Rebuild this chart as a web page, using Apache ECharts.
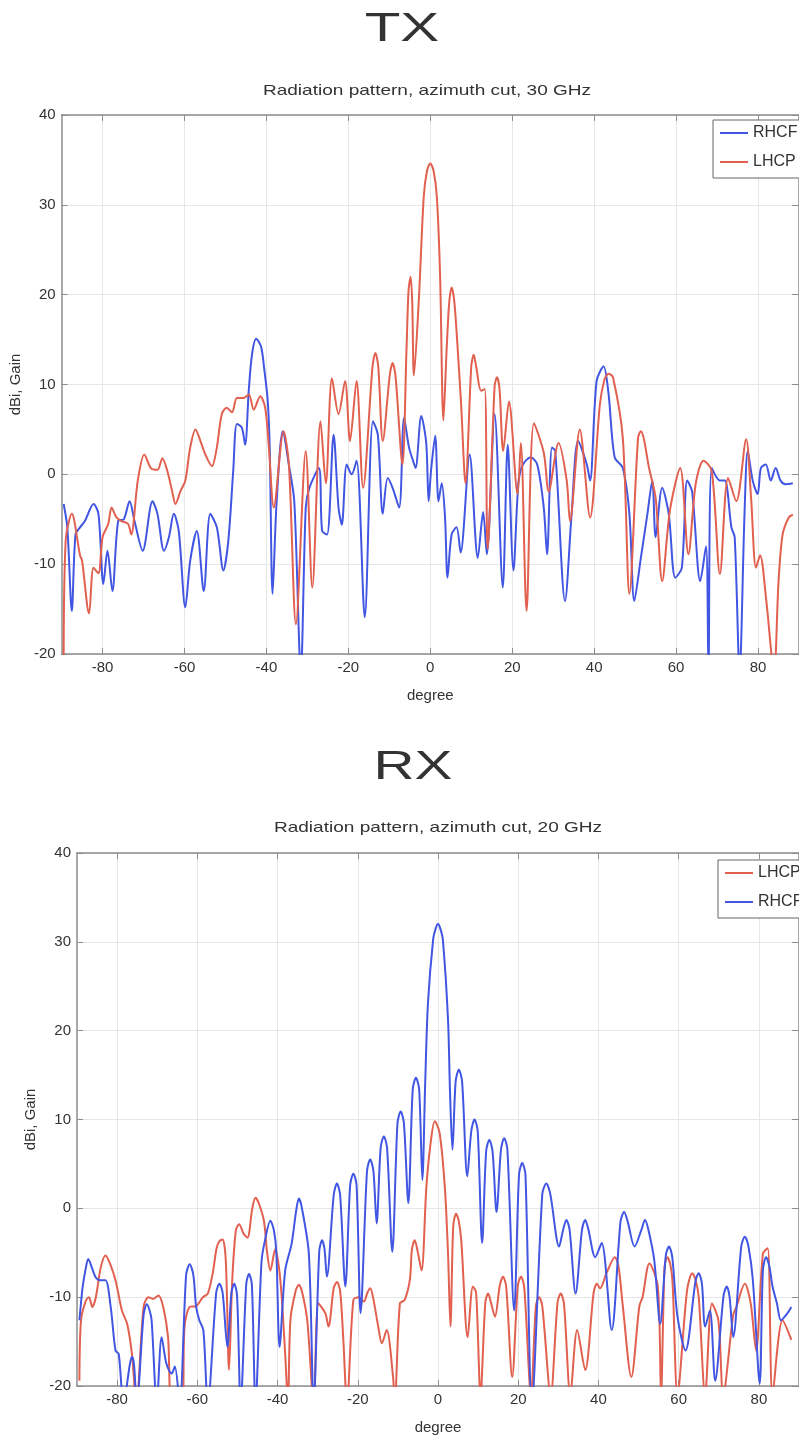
<!DOCTYPE html>
<html>
<head>
<meta charset="utf-8">
<title>Radiation pattern TX / RX</title>
<script src="https://cdn.jsdelivr.net/npm/echarts@6/dist/echarts.min.js"></script>
<style>
  html, body { margin: 0; padding: 0; background: #fff; }
  #chart { width: 799px; height: 1443px; }
</style>
</head>
<body>
<div id="chart"></div>
<script>
// tick positions on the degree axis
const degreeTicks = [-80, -60, -40, -20, 0, 20, 40, 60, 80]

// TX, 30 GHz
const txRhcfDeg = [-89.5, -88.6, -87.5, -86.6, -85.5, -84.3, -82.2, -81, -79.8, -78.8, -77.6, -76.2, -74.8, -73.4, -72.2, -70.2, -67.8, -66.6, -65, -63.8, -62.6, -61.4, -59.8, -58.6, -57, -55.3, -53.7, -52.1, -50.5, -49.3, -48.1, -47.2, -46, -45.2, -44.3, -43.5, -42.5, -41.3, -40.5, -39.7, -39.2, -38.5, -37.5, -36, -34.5, -33.2, -31.6, -30.4, -29.5, -27.2, -26.4, -25.2, -23.6, -22.4, -21.6, -20.4, -19.2, -18, -16, -14, -12.8, -11.6, -10.4, -9.2, -7.6, -6.4, -5.2, -4.2, -3.6, -2.2, -1, -0.4, 0.2, 1.2, 2, 2.8, 3.6, 4.2, 5.2, 6.4, 7.4, 9.6, 11.6, 12.9, 13.8, 15.7, 17.7, 18.9, 20.3, 21.5, 22.5, 24.5, 26.1, 27.7, 28.5, 29.7, 30.5, 32.9, 34.5, 36.1, 38.2, 39, 40.6, 42.3, 43.5, 45, 47, 48.6, 49.8, 51.4, 53, 54.2, 55, 56.6, 58.2, 59.8, 61.4, 62.7, 63.9, 65.9, 67.3, 67.9, 68.7, 70.7, 71.9, 73.5, 74.3, 75.5, 76.7, 77.5, 78.7, 79.9, 80.7, 81.9, 83.1, 84.3, 85.5, 86.7, 88.5]
const txRhcfGain = [-3.3, -5.9, -15.2, -6.7, -5.9, -5.2, -3.3, -4.4, -12.2, -8.5, -13, -5.2, -5, -3, -5.2, -8.5, -3, -4.4, -8.5, -7, -4.4, -6.3, -14.8, -9.6, -6.3, -13, -4.4, -5.9, -10.7, -7.4, 0.4, 5.6, 5.2, 3.3, 9.4, 13.4, 15.1, 14.2, 11.6, 8.3, 3, -13.3, -3, 4.8, 1, -3, -22, -3.7, -1.5, 0.7, -6.3, -6.7, 4.4, -3.7, -5.6, 1.1, 0, 1.5, -15.9, 5.9, 4.4, -4.4, -0.4, -1.5, -3.7, 6.3, 3, 1.5, 0.7, 6.5, 3.5, -3, 0.5, 4.3, -3, -1, -4.8, -11.5, -6.7, -5.9, -8.7, 2.2, -9.3, -4.2, -8.9, 6.7, -12.6, 3.3, -10.7, -1, 1, 1.9, 1.1, -3.7, -8.9, 3, 2.6, -14.1, -4.4, 3.7, 1.1, -0.7, 10.4, 12, 9, 1.9, 0.7, -4.4, -14.1, -9.3, -4.4, -0.7, -7, -1.5, -4.4, -11.5, -10.4, -0.7, -1.9, -11.9, -8, -22, 0.7, -0.7, -0.7, -5.9, -7, -22, -4.4, 2.6, -0.7, -2.2, 0.7, 1.1, -0.7, 0.7, -0.7, -1.1, -1]

const txLhcpDeg = [-89.5, -89, -87.5, -85.5, -85, -83.3, -82.2, -81, -80, -78.6, -77.8, -76.6, -75.4, -73.8, -73, -71.4, -69.8, -68.2, -66.6, -65.4, -64.2, -63, -62.2, -61, -59.8, -58.6, -57.3, -56.1, -54.9, -53.3, -52.1, -50.9, -49.7, -48.4, -47.2, -45.6, -44.3, -43.1, -41.5, -40.3, -39.4, -38.2, -35.8, -34.5, -32.8, -30.4, -28.8, -26.8, -25.5, -24, -22.4, -20.8, -19.6, -18, -16.4, -14.1, -13.4, -12.7, -11.6, -9.9, -9.2, -8.5, -6.8, -5.8, -5.3, -4.8, -4.4, -4, -2.8, -1.6, -0.8, 0, 0.8, 1.6, 2.4, 3.2, 4, 4.6, 5.2, 5.8, 6.4, 7.5, 8.6, 10, 10.6, 11.2, 12.4, 13.3, 14, 15.7, 16.3, 16.9, 17.8, 19.2, 21.3, 22.1, 23.5, 25.3, 27.7, 28.9, 31.3, 33.3, 34.1, 36.5, 39, 41.4, 42.5, 43.5, 44.6, 47, 48.6, 50.7, 51.4, 52.1, 53.4, 55, 56.6, 58.5, 61, 63, 64.8, 66.7, 68.7, 70.7, 72.7, 74.7, 77.1, 78.3, 79.5, 80.5, 82, 83.9, 85, 86, 87.5, 88.5]
const txLhcpGain = [-22, -7.4, -4.4, -9, -9.6, -15.5, -10.4, -11, -7, -5.5, -3.7, -4.8, -5.2, -5.5, -6.7, -0.7, 2.2, 0.7, 0.5, 1.8, 0.4, -1.9, -3.3, -1.9, -0.7, 3, 5, 3.7, 2.2, 0.9, 3, 6.7, 7.4, 6.9, 8.5, 8.5, 8.9, 7.2, 8.7, 7.4, 3, -3.7, 4.8, 1, -16.7, 2.6, -12.6, 5.9, -1, 10.7, 6.7, 10.4, 3.7, 10.4, -1.5, 12, 13.5, 12, 3.7, 11, 12.4, 11, 1.1, 14, 20.5, 22, 19, 11, 19.4, 30.9, 33.8, 34.6, 33.8, 30.9, 22, 6, 14, 19, 20.8, 19.5, 16, 8, -1, 12, 13.3, 12, 9.3, 9.5, -8.3, 9.8, 10.8, 9.5, 2.6, 8.1, -2.2, 3.5, -15.2, 5.7, 2.4, -1.9, 3.5, -0.7, -5.2, 5, -4.8, 7.8, 10.5, 11.2, 10.8, 4, -13.3, 4, 4.8, 4, 0.7, -2.6, -11.9, -4, 0.7, -8.9, -1, 1.5, 0.4, -11.1, -0.4, -3, 3.9, -2.6, -10.4, -9, -14, -22, -12, -6.7, -4.8, -4.5]

// RX, 20 GHz
const rxLhcpDeg = [-89.4, -89, -87.8, -87, -86.2, -85.3, -84.1, -82.9, -81.7, -80.4, -78.8, -77.5, -76.3, -75.2, -73.4, -72.2, -71, -69.7, -68.5, -67.3, -66.3, -63.8, -63.2, -61.9, -60.3, -58.6, -57.4, -56.2, -55.2, -54.5, -53.7, -52.9, -52.1, -51.3, -50.4, -49.6, -48.4, -47.5, -46.3, -45.5, -44.7, -43.4, -42.6, -41.8, -40.6, -39.3, -38.1, -37.4, -36.8, -35.5, -34.7, -33.9, -32.6, -31, -29.8, -28.1, -27.3, -26, -25.2, -24.4, -23.6, -22.7, -21.1, -19.8, -18.5, -17.6, -16.9, -16.2, -14.9, -14, -12.8, -11.2, -10.8, -9.5, -8.3, -7, -6.5, -5.8, -5.1, -4.1, -2.9, -1.8, -0.8, 0.4, 1.7, 2.5, 3.1, 3.8, 4.5, 5.2, 5.8, 7.4, 8.7, 9.5, 10.6, 11.8, 12.5, 13.2, 14.2, 15.4, 16.2, 17, 18.5, 19.9, 20.7, 21.5, 23.2, 24.4, 25.2, 26, 28.1, 29.8, 30.6, 31.4, 33, 34.7, 36.7, 38.8, 39.6, 40.4, 42, 44.1, 45, 46.1, 48.2, 50.2, 51, 52.7, 54.8, 55.6, 56.5, 57.2, 58, 58.5, 59.7, 62.1, 63.4, 64.2, 65, 66.6, 68.3, 69.9, 71.1, 73.6, 74.4, 76.5, 77.3, 78.1, 79.3, 81, 82.2, 83.4, 85.9, 88.1]
const rxLhcpGain = [-19.4, -12.6, -10.4, -10, -11.1, -10, -6.7, -5.3, -6.3, -8.1, -11.5, -13, -16.4, -22, -11.1, -10, -10.2, -9.8, -11.1, -14.5, -22, -22, -13.4, -11.1, -11, -10, -9.6, -7.4, -4.5, -3.7, -3.5, -5.9, -18.2, -8.1, -2.5, -1.8, -2.9, -3.3, 0, 1.2, 0.6, -1.4, -5, -7, -4.6, -8.1, -16.4, -22, -12.6, -9.3, -8.6, -9.4, -12.6, -22, -10.7, -11.8, -13.3, -9, -8.3, -9.3, -14.8, -22, -10.3, -10, -10.5, -9.5, -9, -10, -13.3, -15.2, -13.7, -19, -22, -10.7, -10.3, -8, -4.6, -3.6, -4.8, -7, 2.4, 7.5, 9.8, 8.5, 2.4, -5.1, -13.3, -2, -0.6, -1.5, -3.6, -14.5, -8.8, -9.5, -21, -10.6, -9.6, -10.6, -12.2, -8.7, -7.7, -8.8, -19, -8.7, -7.7, -8.9, -21, -11, -10, -11, -21, -10.6, -9.6, -10.7, -21, -13.7, -18.2, -9.5, -8.5, -9, -7.3, -5.5, -6.5, -11.1, -19, -11, -10, -6.2, -8.8, -21, -6.5, -5.5, -6.5, -8.5, -21, -9.2, -7.3, -8, -10, -21, -10.7, -12.6, -21, -12, -11.1, -8.5, -9.3, -11.1, -16, -5.1, -4.5, -21, -12.6, -14.8]

const rxRhcfDeg = [-89.4, -88.6, -87.8, -87.2, -86.2, -85.3, -84.1, -82.9, -81.6, -80.4, -79.6, -78.4, -76.8, -76.3, -75.8, -75.1, -73.4, -72.6, -71.9, -71.4, -70.1, -68.9, -67.7, -66.4, -65.6, -64.4, -62.8, -61.9, -61, -60.3, -59.5, -58.5, -57.4, -55.3, -54.5, -53.7, -52.5, -51.5, -50.8, -50.1, -49.2, -47.8, -47.1, -46.4, -45.5, -44, -43, -41.8, -40.9, -40.3, -39.5, -38.1, -36.5, -35.4, -34.7, -34, -32.2, -31, -29.6, -28.9, -28.3, -27.7, -26, -25.2, -24.4, -23.1, -21.9, -21.1, -20.3, -19.3, -17.7, -16.9, -16.1, -15.3, -14.3, -13.5, -12.7, -11.4, -10.1, -9.3, -8.5, -7.4, -6.3, -5.5, -4.7, -3.9, -3.2, -2.5, -1.2, -0.5, 0, 0.5, 1.2, 2.5, 3, 3.6, 4.4, 5.2, 6, 7.3, 8.3, 9.1, 9.9, 11, 12, 12.8, 13.6, 14.6, 15.7, 16.5, 17.3, 19, 20.2, 21, 21.8, 23.4, 26, 27, 28, 30.2, 31.2, 32, 32.8, 34.3, 35.9, 36.7, 37.5, 39.2, 40.8, 43.3, 45.5, 46.4, 47.3, 49, 50.8, 51.6, 52.4, 53.9, 55.4, 56.8, 57.6, 58.4, 59.7, 61.7, 64.2, 65, 65.8, 66.6, 67.8, 69.1, 71.2, 72, 72.7, 73.6, 75.6, 76.5, 77.4, 78.5, 80.2, 81, 81.8, 82.6, 83.4, 84.5, 85.5, 86.8, 88.1]
const rxRhcfGain = [-12.6, -8.9, -6.7, -5.7, -6.8, -7.8, -8.1, -8.1, -11.1, -16, -16.4, -22, -17.5, -16.7, -17.5, -22, -12, -10.8, -11.5, -12.6, -22, -14.5, -17.5, -18.6, -17.8, -22, -7.5, -6.3, -7.5, -11.1, -12.6, -13.7, -22, -9.5, -8.5, -9.5, -15.6, -9.5, -8.5, -9.8, -22, -8.5, -7.4, -8.6, -22, -6, -3.3, -1.4, -2.5, -5, -15.6, -7, -4, -0.4, 1.1, 0.2, -5.1, -22, -4.8, -3.6, -4.6, -7.7, 1.5, 2.8, 1.5, -8.8, 2.6, 3.9, 2.6, -11.8, 4.2, 5.5, 4.2, -1.7, 6.8, 8.1, 6.8, -4.9, 9.6, 10.9, 9.6, 0.6, 13.4, 14.7, 13.4, 3.2, 14, 23.1, 30.3, 31.6, 32, 31.6, 30.3, 21.2, 13, 6.6, 14.3, 15.6, 14.3, 3.6, 8.7, 10, 8.7, -3.9, 6.4, 7.7, 6.4, -0.4, 6.6, 7.9, 6.6, -11.5, 3.8, 5.1, 3.8, -22, 1.6, 2.8, 1.6, -4.3, -2.4, -1.3, -2.4, -9.6, -2.4, -1.3, -2.4, -5.5, -3.9, -13.7, -1.5, -0.4, -1.5, -4.3, -2.3, -1.3, -2.3, -5.8, -13, -5.3, -4.3, -5.5, -12.2, -16, -8.2, -7.3, -8.5, -13.3, -11.5, -19.4, -9.8, -8.8, -10, -14.5, -4.3, -3.2, -4.3, -8.1, -19.7, -7, -5.5, -6.5, -8.8, -10.7, -12.6, -12, -11.1]

const BLUE = '#4156e2'
const RED = '#e2604f'
const FONT = '"Liberation Sans", Arial, sans-serif'

const chartInstance = echarts.init(document.getElementById('chart'))

function pairs(xs, ys) {
  return xs.map((x, i) => [x, ys[i]])
}

function bottomAxis(gridIndex) {
  return {
    type: 'value',
    gridIndex: gridIndex,
    position: 'bottom',
    min: -90,
    max: 90,
    name: 'degree',
    nameLocation: 'middle',
    nameGap: 34,
    nameTextStyle: { fontFamily: FONT, fontSize: 15, color: '#333' },
    axisLine: { show: true, onZero: false, lineStyle: { color: '#8c8c8c', width: 1.5 } },
    axisTick: { show: true, inside: true, length: 6, customValues: degreeTicks, lineStyle: { color: '#8c8c8c' } },
    axisLabel: { customValues: degreeTicks, margin: 6, fontFamily: FONT, fontSize: 15, color: '#333' },
    splitLine: { show: true, lineStyle: { color: '#e6e6e6', width: 1 } },
  }
}

function topAxis(gridIndex) {
  return {
    type: 'value',
    gridIndex: gridIndex,
    position: 'top',
    min: -90,
    max: 90,
    axisLine: { show: true, onZero: false, lineStyle: { color: '#8c8c8c', width: 1.5 } },
    axisTick: { show: true, inside: true, length: 6, customValues: degreeTicks, lineStyle: { color: '#8c8c8c' } },
    axisLabel: { show: false },
    splitLine: { show: false },
  }
}

function leftAxis(gridIndex, gap) {
  return {
    type: 'value',
    gridIndex: gridIndex,
    position: 'left',
    min: -20,
    max: 40,
    interval: 10,
    name: 'dBi, Gain',
    nameLocation: 'middle',
    nameRotate: 90,
    nameGap: gap,
    nameTextStyle: { fontFamily: FONT, fontSize: 15, color: '#333' },
    axisLine: { show: true, onZero: false, lineStyle: { color: '#8c8c8c', width: 1.5 } },
    axisTick: { show: true, inside: true, length: 6, lineStyle: { color: '#8c8c8c' } },
    axisLabel: { margin: 6, fontFamily: FONT, fontSize: 15, color: '#333' },
    splitLine: { show: true, lineStyle: { color: '#e6e6e6', width: 1 } },
  }
}

function rightAxis(gridIndex) {
  return {
    type: 'value',
    gridIndex: gridIndex,
    position: 'right',
    min: -20,
    max: 40,
    interval: 10,
    axisLine: { show: true, onZero: false, lineStyle: { color: '#8c8c8c', width: 1.5 } },
    axisTick: { show: true, inside: true, length: 7, lineStyle: { color: '#8c8c8c' } },
    axisLabel: { show: false },
    splitLine: { show: false },
  }
}

function lineSeries(name, color, axisIndex, data) {
  return {
    name: name,
    type: 'line',
    xAxisIndex: axisIndex,
    yAxisIndex: axisIndex,
    data: data,
    showSymbol: false,
    smooth: 0.3,
    clip: true,
    lineStyle: { color: color, width: 2 },
    itemStyle: { color: color },
  }
}

function legendBox(left, top, names) {
  return {
    left: left,
    top: top,
    orient: 'vertical',
    data: names,
    icon: 'path://M0,0H28V2H0Z',
    itemWidth: 28,
    itemHeight: 2,
    itemGap: 13,
    padding: [5, 8, 8, 7],
    borderColor: '#666',
    borderWidth: 1,
    borderRadius: 0,
    backgroundColor: '#fff',
    selectedMode: false,
    textStyle: { fontFamily: FONT, fontSize: 16, lineHeight: 16, color: '#333' },
  }
}

function titleText(text, x, y, size, scaleX) {
  return {
    type: 'text',
    x: x,
    y: y,
    scaleX: scaleX,
    style: {
      text: text,
      fontFamily: FONT,
      fontSize: size,
      fill: '#333',
      align: 'center',
      verticalAlign: 'middle',
    },
  }
}

const option = {
  animation: false,
  backgroundColor: '#fff',
  graphic: [
    titleText('TX', 402, 30, 40, 1.46),
    titleText('Radiation pattern, azimuth cut, 30 GHz', 427, 91, 15, 1.27),
    titleText('RX', 413, 768, 40, 1.42),
    titleText('Radiation pattern, azimuth cut, 20 GHz', 438, 828, 15, 1.27),
  ],
  grid: [
    { left: 60, top: 115, width: 744, height: 539, containLabel: false },
    { left: 77, top: 853, width: 729, height: 533, containLabel: false },
  ],
  xAxis: [bottomAxis(0), bottomAxis(1), topAxis(0), topAxis(1)],
  yAxis: [leftAxis(0, 35), leftAxis(1, 32), rightAxis(0), rightAxis(1)],
  legend: [
    legendBox(713, 120, ['RHCF', 'LHCP']),
    legendBox(718, 860, ['LHCP', 'RHCF']),
  ],
  series: [
    lineSeries('RHCF', BLUE, 0, pairs(txRhcfDeg, txRhcfGain)),
    lineSeries('LHCP', RED, 0, pairs(txLhcpDeg, txLhcpGain)),
    lineSeries('LHCP', RED, 1, pairs(rxLhcpDeg, rxLhcpGain)),
    lineSeries('RHCF', BLUE, 1, pairs(rxRhcfDeg, rxRhcfGain)),
  ],
}

chartInstance.setOption(option)
</script>
</body>
</html>
